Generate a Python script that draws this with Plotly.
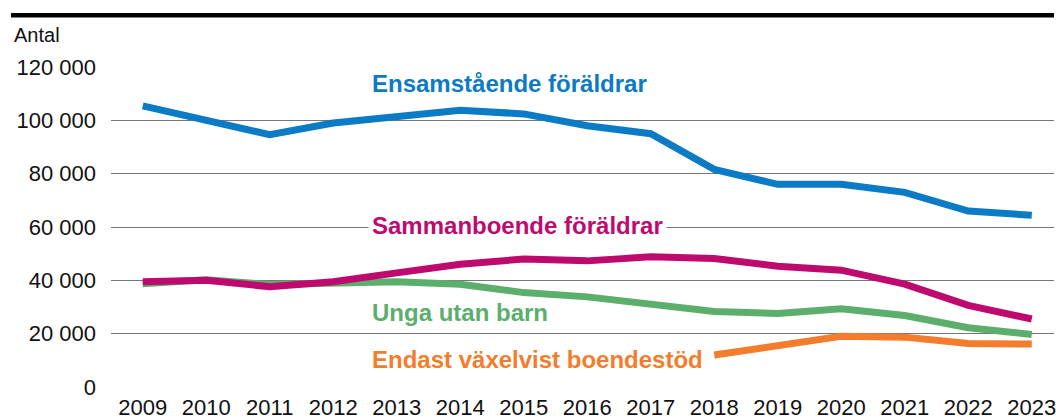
import plotly.graph_objects as go

years = list(range(2009, 2024))

ensamstaende = [105400, 99800, 94600, 99000, 101700, 103800, 102400, 98000, 95000,
                81600, 76000, 76000, 73000, 66000, 64400]
sammanboende = [39500, 40000, 37600, 39500, 42800, 46000, 48000, 47300, 48800,
                48200, 45300, 43800, 38600, 30600, 25500]
unga = [38700, 40200, 38400, 38700, 39500, 38500, 35400, 33800, 30900,
        28300, 27600, 29300, 26800, 22200, 19700]
vaxelvis_years = [2018, 2019, 2020, 2021, 2022, 2023]
vaxelvis = [12000, 15800, 19000, 18700, 16300, 16100]

y_ticks = [0, 20000, 40000, 60000, 80000, 100000, 120000]
y_ticktext = ["0", "20 000", "40 000", "60 000", "80 000", "100 000", "120 000"]

BLUE = "#0a7bc4"
MAGENTA = "#be0a6e"
GREEN = "#5cae6c"
ORANGE = "#f37d2c"
FONT = "Liberation Sans, Arial, sans-serif"

fig = go.Figure()

# ordning: grön under, magenta och blå överst
fig.add_trace(go.Scatter(x=years, y=unga, mode="lines",
                         line=dict(color=GREEN, width=7)))
fig.add_trace(go.Scatter(x=vaxelvis_years, y=vaxelvis, mode="lines",
                         line=dict(color=ORANGE, width=7)))
fig.add_trace(go.Scatter(x=years, y=sammanboende, mode="lines",
                         line=dict(color=MAGENTA, width=7)))
fig.add_trace(go.Scatter(x=years, y=ensamstaende, mode="lines",
                         line=dict(color=BLUE, width=7)))

labels = [
    ("Ensamstående föräldrar", BLUE, 2012.54, 113700, None),
    ("Sammanboende föräldrar", MAGENTA, 2012.54, 60400, "white"),
    ("Unga utan barn", GREEN, 2012.54, 27900, None),
    ("Endast växelvist boendestöd", ORANGE, 2012.54, 10400, None),
]
for text, color, x, y, bg in labels:
    fig.add_annotation(x=x, y=y, xref="x", yref="y", text=text, showarrow=False,
                       xanchor="left", yanchor="middle",
                       font=dict(family=FONT, size=24, color=color, weight="bold"),
                       bgcolor=bg, borderpad=3)

fig.add_annotation(x=-0.1048, y=1.099, xref="paper", yref="paper", text="Antal",
                   showarrow=False, xanchor="left", yanchor="middle",
                   font=dict(family=FONT, size=20, color="#111"))

# svart linje överst
fig.add_shape(type="line", xref="paper", yref="paper", x0=-0.106, x1=1.0,
              y0=1.162, y1=1.162, line=dict(color="black", width=4.5))

fig.update_layout(
    width=1056, height=420,
    margin=dict(l=111, r=0, t=67, b=31),
    paper_bgcolor="white", plot_bgcolor="white",
    showlegend=False,
    font=dict(family=FONT, size=22, color="#111"),
    xaxis=dict(range=[2008.5, 2023.35], tickvals=years, ticks="",
               showgrid=False, zeroline=False, showline=False,
               tickfont=dict(size=22), ticklabelstandoff=5,
               ticklabeloverflow="allow"),
    yaxis=dict(range=[0, 120000], tickvals=y_ticks, ticktext=y_ticktext,
               showgrid=True, gridcolor="#777", gridwidth=1.2,
               zeroline=False, showline=False, ticks="",
               tickfont=dict(size=22), ticklabelstandoff=14),
)

fig.write_html("out.html", config={"displayModeBar": False},
               post_script="document.body.style.margin='0';")
